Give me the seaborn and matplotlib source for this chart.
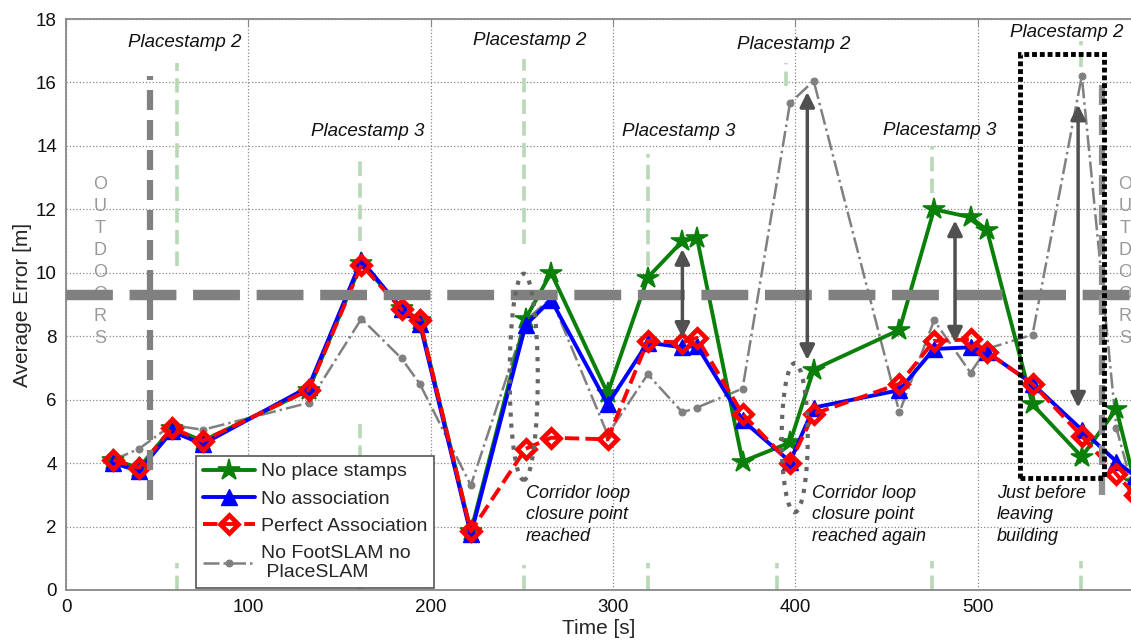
import matplotlib
matplotlib.use("Agg")
import matplotlib.pyplot as plt
from matplotlib.patches import Ellipse, Rectangle
import seaborn as sns

# ---------------------
# data
# ---------------------
time_s = [26, 40, 58, 75, 133, 162, 184, 194, 222, 252, 266, 297, 319, 338, 346,
          371, 397, 410, 457, 476, 496, 505, 530, 557, 576, 586]
no_place_stamps = [4.1, 3.85, 5.1, 4.7, 6.3, 10.3, 8.9, 8.5, 1.85, 8.55, 10.0, 6.2, 9.85, 11.0, 11.1,
                   4.05, 4.65, 6.95, 8.2, 12.0, 11.75, 11.35, 5.85, 4.2, 5.7, 3.4]
no_association = [4.0, 3.75, 5.0, 4.6, 6.4, 10.4, 8.85, 8.4, 1.75, 8.35, 9.15, 5.85, 7.8, 7.65, 7.7,
                  5.35, 4.05, 5.75, 6.3, 7.6, 7.65, 7.5, 6.5, 5.05, 4.05, 3.6]
perfect_assoc = [4.1, 3.85, 5.1, 4.7, 6.3, 10.25, 8.85, 8.5, 1.85, 4.45, 4.8, 4.75, 7.85, 7.8, 7.95,
                 5.55, 4.0, 5.55, 6.5, 7.85, 7.9, 7.5, 6.5, 4.85, 3.65, 3.0]
no_footslam = [4.1, 4.45, 5.2, 5.05, 5.9, 8.55, 7.3, 6.5, 3.3, 8.5, 9.2, 4.9, 6.8, 5.6, 5.75,
               6.35, 15.35, 16.05, 5.6, 8.5, 6.85, 7.6, 8.05, 16.2, 5.1, 3.0]

legend_labels = ["No place stamps", "No association", "Perfect Association",
                 "No FootSLAM no\n PlaceSLAM"]

# placestamp labels
stamp_text = ["Placestamp 2", "Placestamp 3", "Placestamp 2", "Placestamp 3",
              "Placestamp 2", "Placestamp 3", "Placestamp 2"]
stamp_text_x = [65, 165.5, 254.5, 336, 399, 479, 549]
stamp_text_y = [17.26, 14.45, 17.32, 14.45, 17.2, 14.5, 17.57]

# light green placestamp marker segments (x, y0, y1)
stamp_seg_x = [61, 161, 251, 319, 394.7, 475, 556.5, 61, 161, 251, 319, 390, 475, 556.5]
stamp_seg_y0 = [10.2, 11.0, 10.9, 10.2, 15.9, 12.5, 16.5, 0, 0, 0, 0, 0, 0, 0]
stamp_seg_y1 = [16.6, 13.6, 16.75, 13.76, 16.6, 14.0, 17.3, 0.85, 5.3, 0.8, 0.85, 0.85, 0.9, 0.9]

# double arrows
arrow_x = [338, 406.5, 487.5, 555]
arrow_lo = [7.95, 7.25, 7.8, 5.75]
arrow_hi = [10.75, 15.7, 11.65, 15.3]

notes = ["Corridor loop\nclosure point\nreached",
         "Corridor loop\nclosure point\nreached again",
         "Just before\nleaving\nbuilding"]
notes_x = [252, 409, 510.5]
notes_y = [3.3, 3.3, 3.3]

# ---------------------
# plot
# ---------------------
sns.set_style("white")
plt.rcParams["font.family"] = ["Liberation Sans", "DejaVu Sans"]

fig = plt.figure(figsize=(11.31, 6.43), dpi=100)
ax = fig.add_axes([66 / 1131, 53 / 643, 1065 / 1131, 571 / 643])

sns.lineplot(x=time_s, y=no_footslam, ax=ax, sort=False, estimator=None, color="#808080",
             lw=1.8, ls="-.", marker="o", ms=5, mec="#808080", mfc="#808080",
             label=legend_labels[3], zorder=3)
sns.lineplot(x=time_s, y=no_place_stamps, ax=ax, sort=False, estimator=None, color="#0a800a",
             lw=2.8, marker="*", ms=16, mec="#0a800a", mfc="#0a800a", mew=1.2,
             label=legend_labels[0], zorder=4)
sns.lineplot(x=time_s, y=no_association, ax=ax, sort=False, estimator=None, color="#0000ff",
             lw=2.8, marker="^", ms=11, mec="#0000ff", mfc="#0000ff", mew=1,
             label=legend_labels[1], zorder=5)
sns.lineplot(x=time_s, y=perfect_assoc, ax=ax, sort=False, estimator=None, color="#ff0000",
             lw=2.8, ls="--", marker="D", ms=9.5, mec="#ff0000", mfc="none", mew=3.4,
             label=legend_labels[2], zorder=6)

# thick grey dashed reference lines
ax.axhline(9.3, color="#808080", lw=7.5, ls=(0, (4.5, 1.6)), zorder=7)
ax.plot([46, 46], [2.85, 16.2], color="#808080", lw=4.5, ls=(0, (3.2, 1.6)), zorder=7)
ax.plot([568, 568], [3.0, 16.0], color="#909090", lw=4.5, ls=(0, (3.2, 1.6)), zorder=7)

# placestamp markers
for sx, y0, y1 in zip(stamp_seg_x, stamp_seg_y0, stamp_seg_y1):
    ax.plot([sx, sx], [y0, y1], color="#b8d8b8", lw=2.6, ls=(0, (4, 2)), zorder=2)
for txt, tx, ty in zip(stamp_text, stamp_text_x, stamp_text_y):
    ax.text(tx, ty, txt, fontsize=13.5, style="italic", ha="center", va="center", color="#111")

# OUTDOORS
for ox in [18.6, 580.6]:
    ax.text(ox, 10.35, "O\nU\nT\nD\nO\nO\nR\nS", fontsize=13, color="#999999",
            ha="center", va="center", linespacing=1.38, zorder=1)

# loop closure ellipses and box
ax.add_patch(Ellipse((251, 6.72), 15.4, 6.5, fill=False, ls=":", lw=3, ec="#666666", zorder=8))
ax.add_patch(Ellipse((399.6, 4.8), 14.3, 4.7, fill=False, ls=":", lw=3, ec="#666666", zorder=8))
ax.add_patch(Rectangle((523, 3.53), 46, 13.37, fill=False, ls=(0, (1, 0.6)), lw=3.5,
                       ec="black", zorder=9))

for axx, lo, hi in zip(arrow_x, arrow_lo, arrow_hi):
    ax.annotate("", xy=(axx, hi), xytext=(axx, lo),
                arrowprops=dict(arrowstyle="<|-|>", color="#505050", lw=2.5,
                                mutation_scale=22, shrinkA=0, shrinkB=0), zorder=10)

for txt, tx, ty in zip(notes, notes_x, notes_y):
    ax.text(tx, ty, txt, fontsize=13, style="italic", ha="left", va="top",
            linespacing=1.32, color="#111")

ax.set_xlim(0, 584)
ax.set_ylim(0, 18)
ax.set_xticks([0, 100, 200, 300, 400, 500])
ax.set_yticks(range(0, 19, 2))
ax.grid(True, ls=":", color="#888888", lw=0.9)
ax.tick_params(direction="in", top=True, right=False, length=5, labelsize=13.5,
               color="#888888", labelcolor="#111", pad=6.5)
for side in ["left", "bottom", "top"]:
    ax.spines[side].set_color("#888888")
    ax.spines[side].set_linewidth(1.3)
ax.spines["right"].set_visible(False)
ax.set_xlabel("Time [s]", fontsize=15, labelpad=2)
ax.set_ylabel("Average Error [m]", fontsize=15, labelpad=3)

handles, labels = ax.get_legend_handles_labels()
order = [1, 2, 3, 0]
leg = ax.legend([handles[i] for i in order], [labels[i] for i in order],
                loc="lower left", bbox_to_anchor=(0.122, 0.003), fontsize=14,
                frameon=True, fancybox=False, edgecolor="#555555", framealpha=1,
                handlelength=2.7, handletextpad=0.3, labelspacing=0.5, borderpad=0.35,
                borderaxespad=0)
leg.set_zorder(20)
leg.get_frame().set_linewidth(1.2)

fig.savefig("out.png", dpi=100)
